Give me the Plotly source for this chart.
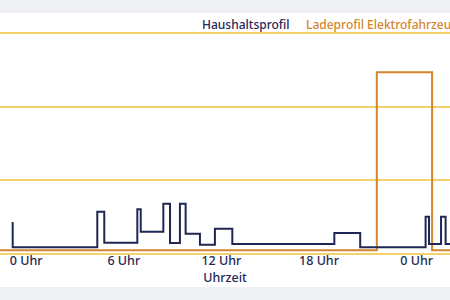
import plotly.graph_objects as go

# Household profile (step changes), hours
haus_x = [-0.83, -0.83, 4.37, 4.80, 6.83, 7.04, 8.43, 8.84, 9.45, 9.80, 10.68, 11.60, 12.67, 18.94, 20.53, 24.55, 24.76, 25.50, 25.78, 26.3]
haus_y = [0.43, 0.085, 0.57, 0.146, 0.605, 0.296, 0.678, 0.142, 0.678, 0.27, 0.12, 0.337, 0.13, 0.28, 0.087, 0.50, 0.13, 0.50, 0.13, 0.13]

# EV charging profile
lade_x = [-1.8, 21.55, 24.95, 26.3]
lade_y = [0.044, 2.47, 0.044, 0.044]

tick_vals = [0, 6, 12, 18, 24]
tick_text = ["0 Uhr", "6 Uhr", "12 Uhr", "18 Uhr", "0 Uhr"]

NAVY = "#1f2755"
ORANGE = "#d4842c"
GRID = "#f3d26a"
GREY = "#eef0f3"
FONT = "Noto Sans"

fig = go.Figure()
fig.add_trace(go.Scatter(x=lade_x, y=lade_y, mode="lines", line=dict(color=ORANGE, width=2, shape="hv"),
                         name="Ladeprofil Elektrofahrzeug", showlegend=False))
fig.add_trace(go.Scatter(x=haus_x, y=haus_y, mode="lines", line=dict(color=NAVY, width=2, shape="hv"),
                         name="Haushaltsprofil", showlegend=False))

fig.update_layout(
    width=450, height=300,
    margin=dict(l=0, r=0, t=32, b=45),
    paper_bgcolor="white", plot_bgcolor="white",
    font=dict(family=FONT, color=NAVY, size=12.5, weight=500),
    xaxis=dict(range=[-1.61, 26.05], tickvals=tick_vals, ticktext=tick_text, showgrid=False,
               zeroline=False, showline=False, ticks="", ticklabelstandoff=-4,
               title=dict(text="Uhrzeit", standoff=0, font=dict(size=12.5, color=NAVY, weight=500)),
               tickfont=dict(size=12.5, color=NAVY, weight=500)),
    yaxis=dict(range=[-0.02, 3.02], tickvals=[0, 1, 2, 3], showticklabels=False, showgrid=True,
               gridcolor=GRID, gridwidth=1.5, zeroline=False, showline=False),
    shapes=[
        dict(type="rect", xref="paper", yref="paper", x0=-0.1, x1=1.1, y0=1.0 + 19 / 223, y1=1.5,
             fillcolor=GREY, line=dict(width=0), layer="below"),
        dict(type="rect", xref="paper", yref="paper", x0=-0.1, x1=1.1, y0=-0.5, y1=-32 / 223,
             fillcolor=GREY, line=dict(width=0), layer="below"),
    ],
    annotations=[
        dict(text="Haushaltsprofil", xref="paper", yref="paper", x=200 / 450, y=1.0 + 7 / 223,
             xanchor="left", yanchor="middle", showarrow=False, font=dict(size=12, color=NAVY, weight=500)),
        dict(text="Ladeprofil Elektrofahrzeug", xref="paper", yref="paper", x=304 / 450, y=1.0 + 7 / 223,
             xanchor="left", yanchor="middle", showarrow=False, font=dict(size=12, color=ORANGE, weight=500)),
    ],
)

fig.write_html("out.html")
